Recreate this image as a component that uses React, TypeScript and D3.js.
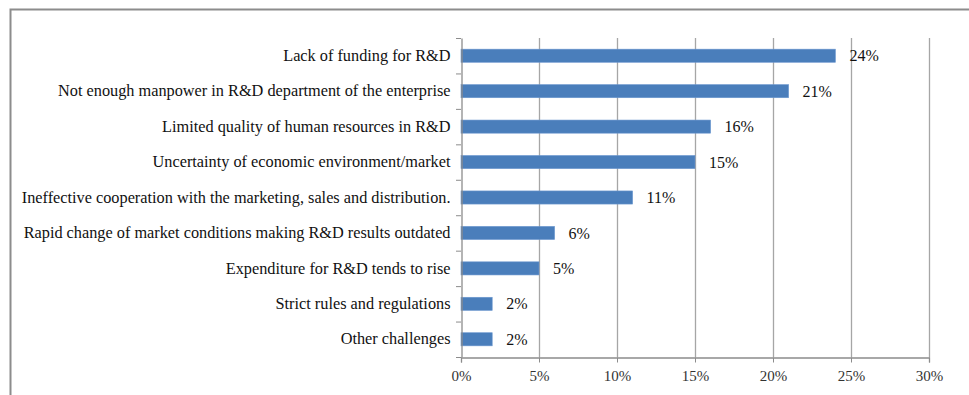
import React, { useEffect, useRef } from "react";
import * as d3 from "d3";

const categories = [
  "Lack of funding for R&D",
  "Not enough manpower in R&D department of the enterprise",
  "Limited quality of human resources in R&D",
  "Uncertainty of economic environment/market",
  "Ineffective cooperation with the marketing, sales and distribution.",
  "Rapid change of market conditions making R&D results outdated",
  "Expenditure for R&D tends to rise",
  "Strict rules and regulations",
  "Other challenges",
];
const values = [24, 21, 16, 15, 11, 6, 5, 2, 2];
const xTicks = [0, 5, 10, 15, 20, 25, 30];

const W = 969;
const H = 395;

export default function App() {
  const ref = useRef<SVGSVGElement>(null);

  useEffect(() => {
    const svg = d3.select(ref.current);
    svg.selectAll("*").remove();

    const left = 461, right = 929, top = 38, bottom = 357;
    const font = "'Liberation Serif', 'Times New Roman', serif";

    // frame
    svg.append("path")
      .attr("d", `M10.5,${H + 5} V9.5 H${W + 5}`)
      .attr("fill", "none")
      .attr("stroke", "#8c8c8c")
      .attr("stroke-width", 2);

    const x = d3.scaleLinear().domain([0, 30]).range([left, right]);
    const y = d3.scaleBand().domain(categories).range([top, bottom]).paddingInner(0.63).paddingOuter(0.315);

    const g = svg.append("g");

    // gridlines
    g.selectAll("line.grid")
      .data(xTicks.slice(1))
      .join("line")
      .attr("class", "grid")
      .attr("x1", d => x(d) + 0.5)
      .attr("x2", d => x(d) + 0.5)
      .attr("y1", top)
      .attr("y2", bottom)
      .attr("stroke", "#a6a6a6")
      .attr("stroke-width", 1.3);

    // bars
    g.selectAll("rect.bar")
      .data(values)
      .join("rect")
      .attr("class", "bar")
      .attr("x", x(0))
      .attr("y", (d, i) => y(categories[i])!)
      .attr("width", d => x(d) - x(0))
      .attr("height", y.bandwidth())
      .attr("fill", "#4a7ebb")
      .attr("stroke", "#6b97cf")
      .attr("stroke-width", 0.6);

    // y axis
    const yAxis = g.append("g")
      .attr("transform", `translate(${left + 0.5},0)`)
      .call(d3.axisLeft(y).tickSize(0).tickPadding(11));
    yAxis.select(".domain").attr("stroke", "#8c8c8c").attr("stroke-width", 1.3);
    yAxis.selectAll("text")
      .style("font-family", font)
      .style("font-size", "16.3px")
      .attr("fill", "#111");
    // category boundary ticks
    const bounds = d3.range(categories.length + 1).map(i => top + i * (bottom - top) / categories.length);
    g.selectAll("line.ytick")
      .data(bounds)
      .join("line")
      .attr("class", "ytick")
      .attr("x1", left - 5)
      .attr("x2", left)
      .attr("y1", d => d + 0.5)
      .attr("y2", d => d + 0.5)
      .attr("stroke", "#8c8c8c");

    // x axis
    const xAxis = g.append("g")
      .attr("transform", `translate(0,${bottom + 0.5})`)
      .call(d3.axisBottom(x).tickValues(xTicks).tickSize(5).tickPadding(8).tickFormat(d => `${d}%`));
    xAxis.select(".domain").attr("stroke", "#8c8c8c").attr("stroke-width", 1.3);
    xAxis.selectAll("line").attr("stroke", "#8c8c8c");
    xAxis.selectAll("text")
      .style("font-family", font)
      .style("font-size", "15px")
      .attr("fill", "#333");

    // value labels
    g.selectAll("text.val")
      .data(values)
      .join("text")
      .attr("class", "val")
      .attr("x", d => x(d) + 14)
      .attr("y", (d, i) => y(categories[i])! + y.bandwidth() / 2)
      .attr("dy", "0.35em")
      .style("font-family", font)
      .style("font-size", "16px")
      .attr("fill", "#111")
      .text(d => `${d}%`);
  }, []);

  return (
    <svg
      ref={ref}
      width={W}
      height={H}
      style={{ position: "absolute", left: 0, top: 0, background: "#fff" }}
    />
  );
}
